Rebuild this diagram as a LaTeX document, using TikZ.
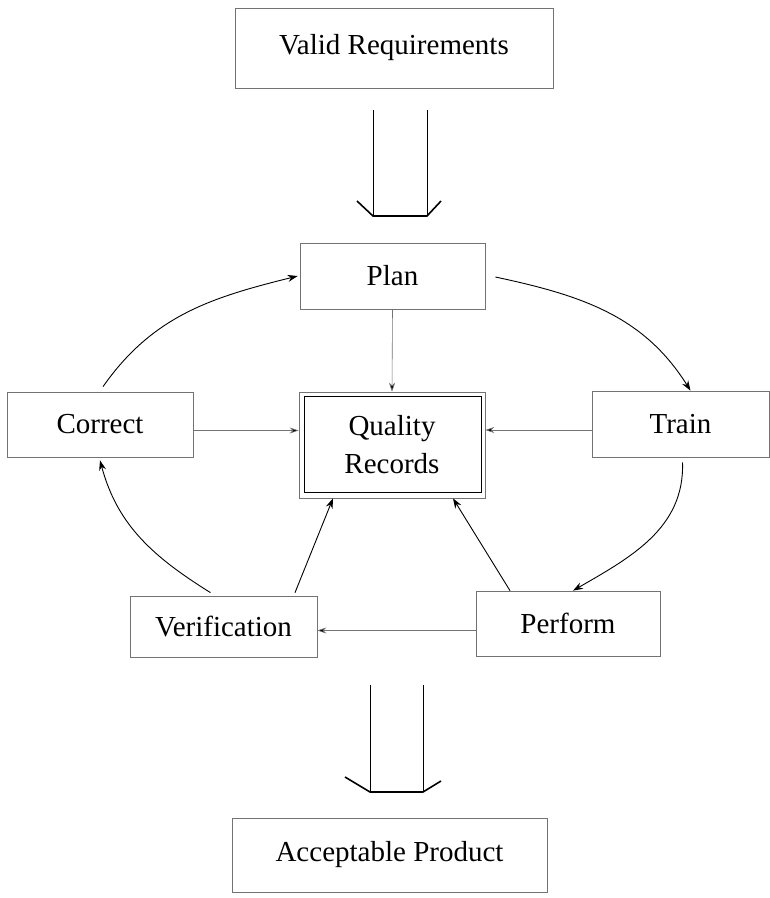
\documentclass[tikz,border=0pt]{standalone}
\usepackage{fontspec}
\setmainfont{Liberation Serif}
\usepackage{tikz}
\usetikzlibrary{arrows.meta}

\begin{document}
\begin{tikzpicture}[
	x = 1pt, y = 1pt,
	font = \fontsize{29}{38}\selectfont,
	box/.style = {draw=black!55, line width=0.7pt, inner sep=0pt, align=center},
	flow/.style = {line width=0.9pt, -{Stealth[length=10pt, width=7pt]}},
	feed/.style = {draw=black!55, line width=0.6pt, -{Stealth[length=9pt, width=6pt, fill=black]}},
	hollow/.style = {line width=0.8pt},
	hollowbase/.style = {line width=1.6pt}
	]
	\useasboundingbox (0,0) rectangle (770,-898);
	% boxes
	\node [box, minimum width=318, minimum height=80] (valid) at (394,-48) {Valid Requirements};
	\node [box, minimum width=185, minimum height=66] (plan) at (392.5,-276) {Plan};
	\node [box, minimum width=186, minimum height=106] (records) at (392,-445) {Quality\\Records};
	\draw [line width=1.6pt] ([shift={(6,-5)}]records.north west) rectangle ([shift={(-4,6)}]records.south east);
	\node [box, minimum width=186, minimum height=65] (correct) at (100,-424.5) {Correct};
	\node [box, minimum width=177, minimum height=66] (train) at (680.5,-424) {Train};
	\node [box, minimum width=187, minimum height=61] (verif) at (223.5,-626.5) {Verification};
	\node [box, minimum width=184, minimum height=65] (perform) at (568,-623.5) {Perform};
	\node [box, minimum width=315, minimum height=74] (product) at (389.5,-855) {Acceptable Product};
	% open arrows into and out of the loop
	\draw [hollow] (373,-110) -- (373,-216);
	\draw [hollow] (427,-110) -- (427,-216);
	\draw [hollowbase] (357,-201) -- (373,-216) -- (427,-216) -- (441,-201);
	\draw [hollow] (370,-685) -- (370,-792);
	\draw [hollow] (423,-685) -- (423,-792);
	\draw [hollowbase] (345,-777) -- (370,-792) -- (423,-792) -- (441,-781);
	% the cycle
	\draw [flow] ([xshift=10pt,yshift=-1pt]plan.east) to[out=-12, in=122] ([xshift=10pt]train.north);
	\draw [flow] ([xshift=2pt,yshift=-5pt]train.south) to[out=-88, in=30] ([xshift=5pt]perform.north);
	\draw [feed] ([yshift=-7pt]perform.west) -- ([yshift=-7pt]perform.west -| verif.east);
	\draw [flow] ([xshift=-13pt,yshift=3pt]verif.north) to[out=148, in=-75] ([yshift=-3pt]correct.south);
	\draw [flow] ([xshift=3pt,yshift=5pt]correct.north) to[out=55, in=-166] ([xshift=-2pt]plan.west);
	% records
	\draw [feed] (plan.south) -- (records.north);
	\draw [feed] ([yshift=-6pt]correct.east) -- ([yshift=-6pt]correct.east -| records.west);
	\draw [feed] ([yshift=-6pt]train.west) -- ([yshift=-6pt]train.west -| records.east);
	\draw [flow] ([xshift=71.5pt,yshift=3pt]verif.north) -- ([xshift=-59pt]records.south);
	\draw [flow] ([xshift=-58pt]perform.north) -- ([xshift=61pt]records.south);
\end{tikzpicture}
\end{document}
